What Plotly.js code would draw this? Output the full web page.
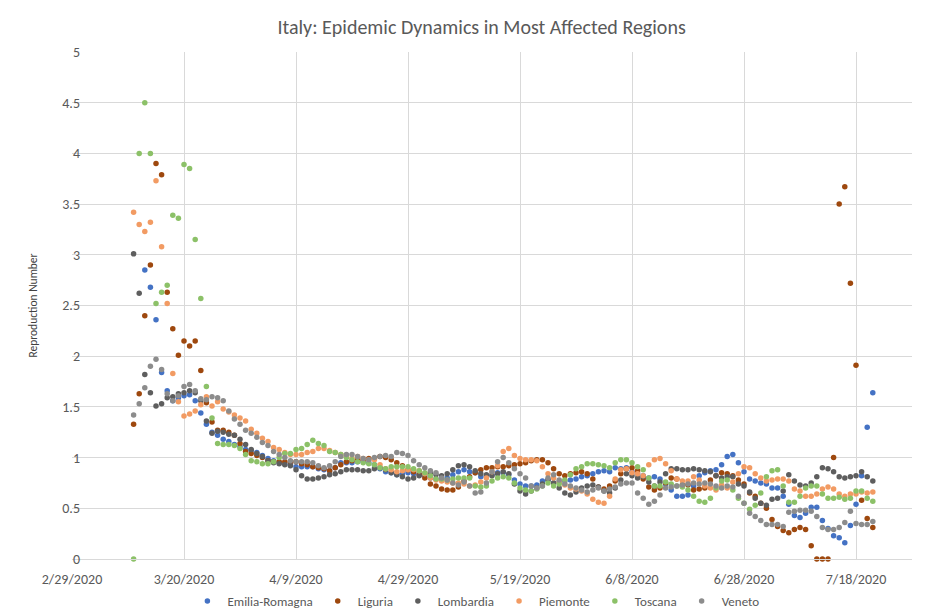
<!DOCTYPE html>
<html>
<head>
<meta charset="utf-8">
<script src="https://cdn.plot.ly/plotly-3.0.1.min.js"></script>
<style>html,body{margin:0;padding:0;background:#fff;}#chart{width:948px;height:615px;}</style>
</head>
<body>
<div id="chart"></div>
<script>
// First day of all series (daily data)
const startDate = '2020-03-11';

const emiliaRomagna = [null, null, 2.85, 2.68, 2.36, 1.84, 1.66, 1.56, 1.59, 1.61,
  1.62, 1.56, 1.44, 1.33, 1.25, 1.22, 1.18, 1.16, 1.13, 1.11,
  1.08, 1.07, 1.05, 1.02, 0.99, 0.97, 0.95, 0.94, 0.93, 0.91,
  0.91, 0.91, 0.91, 0.89, 0.88, 0.87, 0.90, 0.95, 0.95, 0.95,
  0.96, 0.96, 0.95, 0.93, 0.89, 0.86, 0.85, 0.83, 0.84, 0.85,
  0.84, 0.84, 0.82, 0.80, 0.79, 0.79, 0.80, 0.83, 0.86, 0.88,
  0.86, 0.85, 0.81, 0.81, 0.83, 0.85, 0.85, 0.83, 0.78, 0.74,
  0.72, 0.72, 0.73, 0.77, 0.78, 0.75, 0.76, 0.77, 0.78, 0.79,
  0.81, 0.82, 0.84, 0.86, 0.87, 0.86, 0.90, 0.89, 0.90, 0.86,
  0.84, 0.82, 0.80, 0.81, 0.79, 0.74, 0.68, 0.62, 0.62, 0.63,
  0.72, 0.82, 0.85, 0.87, 0.88, 0.93, 1.01, 1.03, 0.95, 0.86,
  0.79, 0.77, 0.75, 0.74, 0.70, 0.70, 0.62, 0.54, 0.43, 0.41,
  0.45, 0.51, 0.51, 0.38, 0.30, 0.23, 0.21, 0.16, 0.33, 0.54,
  0.82, 1.30, 1.64];

const liguria = [1.33, 1.63, 2.40, 2.90, 3.90, 3.79, 2.63, 2.27, 2.01, 2.15,
  2.10, 2.15, 1.86, 1.54, 1.35, 1.27, 1.27, 1.25, 1.22, 1.14,
  1.06, 1.04, 1.02, 1.00, 0.97, 0.96, 0.96, 0.96, 0.96, 0.96,
  0.94, 0.93, 0.91, 0.90, 0.89, 0.87, 0.90, 0.93, 0.96, 0.97,
  0.98, 0.98, 0.99, 0.99, 1.01, 1.00, 0.98, 0.95, 0.92, 0.88,
  0.86, 0.83, 0.80, 0.74, 0.72, 0.69, 0.68, 0.68, 0.71, 0.77,
  0.81, 0.85, 0.88, 0.90, 0.90, 0.91, 0.91, 0.92, 0.93, 0.94,
  0.95, 0.97, 0.98, 0.98, 0.95, 0.89, 0.84, 0.82, 0.84, 0.85,
  0.86, 0.84, 0.79, 0.71, 0.69, 0.72, 0.77, 0.84, 0.89, 0.90,
  0.87, 0.79, 0.71, 0.68, 0.70, 0.75, 0.80, 0.79, 0.73, 0.73,
  0.68, 0.69, 0.70, 0.78, 0.82, 0.85, 0.84, 0.82, 0.78, 0.74,
  0.65, 0.62, 0.55, 0.50, 0.39, 0.32, 0.28, 0.26, 0.29, 0.31,
  0.29, 0.13, 0.00, 0.00, 0.00, 1.00, 3.50, 3.67, 2.72, 1.91,
  0.58, 0.40, 0.31];

const lombardia = [3.01, 2.62, 1.82, 1.64, 1.51, 1.53, 1.59, 1.60, 1.63, 1.64,
  1.66, 1.64, 1.56, 1.36, 1.24, 1.26, 1.25, 1.23, 1.22, 1.18,
  1.13, 1.08, 1.04, 1.01, 0.97, 0.95, 0.94, 0.93, 0.92, 0.88,
  0.82, 0.79, 0.79, 0.80, 0.81, 0.83, 0.84, 0.86, 0.88, 0.88,
  0.88, 0.87, 0.87, 0.89, 0.90, 0.88, 0.85, 0.83, 0.81, 0.79,
  0.80, 0.82, 0.84, 0.85, 0.83, 0.82, 0.84, 0.88, 0.92, 0.93,
  0.91, 0.87, 0.84, 0.83, 0.82, 0.84, 0.86, 0.84, 0.74, 0.67,
  0.64, 0.67, 0.70, 0.74, 0.78, 0.75, 0.70, 0.65, 0.63, 0.66,
  0.70, 0.72, 0.73, 0.71, 0.67, 0.65, 0.70, 0.78, 0.84, 0.82,
  0.80, 0.81, 0.76, 0.72, 0.76, 0.84, 0.89, 0.89, 0.88, 0.88,
  0.89, 0.88, 0.87, 0.86, 0.82, 0.80, 0.81, 0.81, 0.74, 0.72,
  0.66, 0.60, 0.55, 0.53, 0.59, 0.60, 0.67, 0.83, 0.77, 0.73,
  0.72, 0.75, 0.81, 0.90, 0.89, 0.86, 0.81, 0.80, 0.81, 0.82,
  0.86, 0.81, 0.77];

const piemonte = [3.42, 3.30, 3.23, 3.32, 3.73, 3.08, 2.52, 1.83, 1.55, 1.41,
  1.43, 1.46, 1.52, 1.60, 1.51, 1.55, 1.48, 1.45, 1.42, 1.39,
  1.36, 1.28, 1.24, 1.19, 1.16, 1.10, 1.08, 1.05, 1.03, 1.03,
  1.03, 1.05, 1.06, 1.09, 1.09, 1.07, 1.05, 1.03, 1.01, 0.99,
  1.01, 0.99, 0.98, 0.98, 0.93, 0.89, 0.88, 0.86, 0.87, 0.88,
  0.88, 0.87, 0.84, 0.80, 0.78, 0.77, 0.76, 0.75, 0.75, 0.74,
  0.72, 0.73, 0.76, 0.80, 0.86, 0.92, 1.06, 1.09, 1.02, 0.99,
  0.98, 0.98, 0.97, 0.91, 0.84, 0.80, 0.76, 0.73, 0.70, 0.69,
  0.67, 0.64, 0.59, 0.56, 0.55, 0.62, 0.79, 0.88, 0.89, 0.85,
  0.84, 0.82, 0.93, 0.98, 0.99, 0.94, 0.87, 0.79, 0.77, 0.77,
  0.81, 0.78, 0.72, 0.70, 0.68, 0.73, 0.70, 0.76, 0.84, 0.91,
  0.90, 0.84, 0.80, 0.77, 0.78, 0.79, 0.79, 0.77, 0.69, 0.67,
  0.62, 0.62, 0.64, 0.69, 0.71, 0.69, 0.64, 0.62, 0.64, 0.64,
  0.66, 0.65, 0.66];

const toscana = [0.00, 4.00, 4.50, 4.00, 2.52, 2.63, 2.70, 3.39, 3.36, 3.89,
  3.85, 3.15, 2.57, 1.70, 1.39, 1.14, 1.13, 1.13, 1.12, 1.09,
  1.03, 0.97, 0.96, 0.94, 0.94, 0.96, 1.00, 1.04, 1.04, 1.08,
  1.09, 1.13, 1.17, 1.14, 1.12, 1.06, 1.05, 1.03, 1.00, 0.98,
  0.96, 0.95, 0.94, 0.93, 0.90, 0.89, 0.91, 0.91, 0.91, 0.91,
  0.89, 0.87, 0.85, 0.82, 0.79, 0.79, 0.78, 0.79, 0.80, 0.80,
  0.80, 0.72, 0.71, 0.72, 0.77, 0.80, 0.81, 0.80, 0.75, 0.70,
  0.68, 0.67, 0.69, 0.72, 0.75, 0.72, 0.74, 0.78, 0.83, 0.89,
  0.91, 0.94, 0.94, 0.93, 0.92, 0.90, 0.95, 0.98, 0.98, 0.95,
  0.91, 0.88, 0.80, 0.72, 0.72, 0.76, 0.74, 0.72, 0.71, 0.68,
  0.62, 0.57, 0.56, 0.60, 0.70, 0.77, 0.78, 0.68, 0.60, 0.55,
  0.49, 0.53, 0.65, 0.81, 0.87, 0.88, 0.72, 0.56, 0.56, 0.62,
  0.70, 0.72, 0.72, 0.64, 0.60, 0.60, 0.61, 0.59, 0.60, 0.67,
  0.67, 0.60, 0.57];

const veneto = [1.42, 1.53, 1.69, 1.90, 1.97, 1.87, 1.63, 1.56, 1.61, 1.70,
  1.72, 1.66, 1.58, 1.57, 1.60, 1.59, 1.56, 1.46, 1.38, 1.33,
  1.27, 1.24, 1.20, 1.15, 1.12, 1.06, 1.03, 1.00, 0.97, 0.96,
  0.96, 0.96, 0.95, 0.92, 0.90, 0.92, 0.96, 1.01, 1.03, 1.03,
  1.01, 0.99, 0.98, 1.00, 1.01, 1.02, 1.01, 1.05, 1.04, 1.02,
  0.97, 0.93, 0.90, 0.87, 0.85, 0.80, 0.78, 0.75, 0.73, 0.76,
  0.72, 0.65, 0.66, 0.75, 0.86, 0.96, 1.00, 0.95, 0.89, 0.84,
  0.80, 0.72, 0.70, 0.72, 0.80, 0.83, 0.78, 0.74, 0.72, 0.70,
  0.68, 0.66, 0.68, 0.70, 0.67, 0.69, 0.71, 0.74, 0.75, 0.75,
  0.65, 0.60, 0.54, 0.57, 0.63, 0.70, 0.71, 0.72, 0.73, 0.74,
  0.75, 0.74, 0.75, 0.74, 0.72, 0.70, 0.72, 0.71, 0.62, 0.55,
  0.45, 0.42, 0.38, 0.34, 0.34, 0.34, 0.32, 0.46, 0.47, 0.48,
  0.48, 0.47, 0.42, 0.31, 0.29, 0.29, 0.31, 0.36, 0.47, 0.35,
  0.34, 0.34, 0.37];

const seriesNames = ['Emilia-Romagna', 'Liguria', 'Lombardia', 'Piemonte', 'Toscana', 'Veneto'];
const seriesValues = [emiliaRomagna, liguria, lombardia, piemonte, toscana, veneto];
const seriesColors = ['#4472C4', '#9E480E', '#5E5E5E', '#F29B63', '#8CC168', '#8C8C8C'];

function dayString(i) {
  const d = new Date(startDate + 'T00:00:00Z');
  d.setUTCDate(d.getUTCDate() + i);
  return d.toISOString().slice(0, 10);
}

const traces = seriesValues.map((vals, k) => ({
  type: 'scatter',
  mode: 'markers',
  name: seriesNames[k],
  x: vals.map((_, i) => dayString(i)),
  y: vals,
  marker: {color: seriesColors[k], size: 5.5},
  cliponaxis: false
}));

const font = 'Carlito, Calibri, "Liberation Sans", Arial, sans-serif';

const layout = {
  width: 948, height: 615,
  margin: {l: 72, r: 36, t: 52, b: 56, autoexpand: false},
  paper_bgcolor: '#ffffff', plot_bgcolor: '#ffffff',
  font: {family: font, color: '#595959', size: 12},
  title: {text: 'Italy: Epidemic Dynamics in Most Affected Regions', font: {family: font, size: 20, color: '#595959'},
          x: 0.508, xref: 'container', xanchor: 'center', y: 0.956, yref: 'container', yanchor: 'middle'},
  xaxis: {
    type: 'date',
    range: ['2020-02-29', '2020-07-28'],
    tick0: '2020-02-29', dtick: 20 * 86400000,
    tickformat: '%-m/%-d/%Y',
    showgrid: true, gridcolor: '#d9d9d9', gridwidth: 1,
    showline: true, linecolor: '#d9d9d9', linewidth: 1,
    zeroline: false, ticks: '',
    ticklabelstandoff: 7,
    tickfont: {family: font, size: 14, color: '#595959'}
  },
  yaxis: {
    range: [0, 5], dtick: 0.5, tick0: 0,
    showgrid: true, gridcolor: '#d9d9d9', gridwidth: 1,
    showline: false, zeroline: false, ticks: '',
    ticklabelstandoff: -9,
    tickfont: {family: font, size: 14, color: '#595959'},
    title: {text: 'Reproduction Number', font: {family: font, size: 11.5, color: '#404040'}, standoff: 22}
  },
  legend: {
    orientation: 'h', x: 0.502, xref: 'container', xanchor: 'center',
    y: 1 - 601 / 615, yref: 'container', yanchor: 'middle',
    font: {family: font, size: 13, color: '#595959'},
    itemwidth: 30, tracegroupgap: 0
  },
  showlegend: true
};

Plotly.newPlot('chart', traces, layout, {displayModeBar: false, staticPlot: true});
</script>
</body>
</html>
